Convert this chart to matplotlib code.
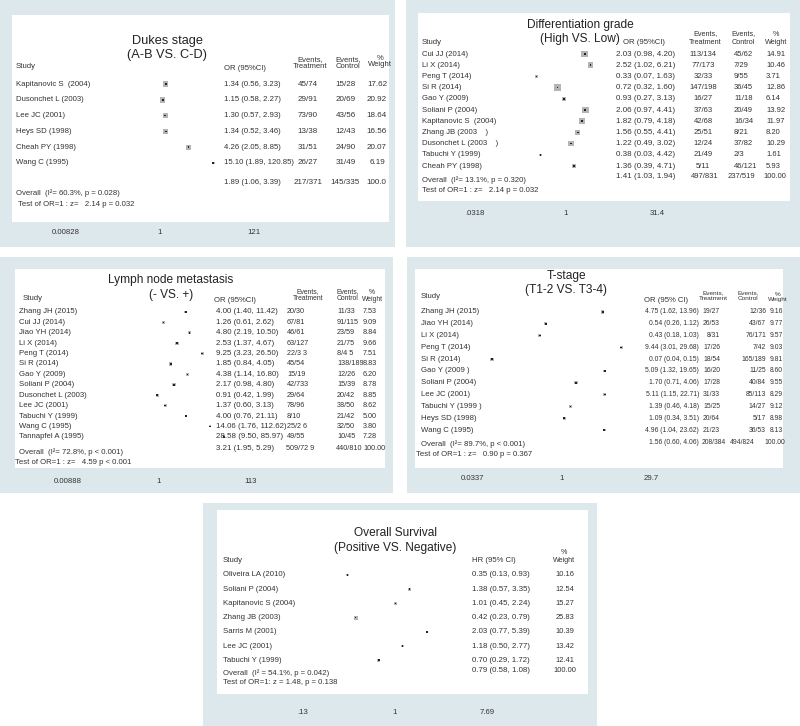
import numpy as np
import matplotlib.pyplot as plt
from matplotlib.patches import Rectangle
from matplotlib.ticker import NullLocator
from matplotlib.transforms import blended_transform_factory

plt.rcParams['font.family'] = ['Liberation Sans', 'DejaVu Sans']

W, H = 800, 726
BLUE = '#dde8ec'
INK = '#333333'
BOX = '#b4b4b4'

# Dukes stage
dukes_study = ['Kapitanovic S  (2004)', 'Dusonchet L (2003)', 'Lee JC (2001)', 'Heys SD (1998)',
               'Cheah PY (1998)', 'Wang C (1995)']
dukes_or = [1.34, 1.15, 1.30, 1.34, 4.26, 15.10]
dukes_lo = [0.56, 0.58, 0.57, 0.52, 2.05, 1.89]
dukes_hi = [3.23, 2.27, 2.93, 3.46, 8.85, 120.85]
dukes_trt = ['45/74', '29/91', '73/90', '13/38', '31/51', '26/27']
dukes_ctl = ['15/28', '20/69', '43/56', '12/43', '24/90', '31/49']
dukes_wt = [17.62, 20.92, 18.64, 16.56, 20.07, 6.19]

# Differentiation grade
diff_study = ['Cui JJ (2014)', 'Li X (2014)', 'Peng T (2014)', 'Si R (2014)', 'Gao Y (2009)',
              'Soliani P (2004)', 'Kapitanovic S  (2004)', 'Zhang JB (2003    )', 'Dusonchet L (2003    )',
              'Tabuchi Y (1999)', 'Cheah PY (1998)']
diff_or = [2.03, 2.52, 0.33, 0.72, 0.93, 2.06, 1.82, 1.56, 1.22, 0.38, 1.36]
diff_lo = [0.98, 1.02, 0.07, 0.32, 0.27, 0.97, 0.79, 0.55, 0.49, 0.03, 0.39]
diff_hi = [4.20, 6.21, 1.63, 1.60, 3.13, 4.41, 4.18, 4.41, 3.02, 4.42, 4.71]
diff_trt = ['113/134', '77/173', '32/33', '147/198', '16/27', '37/63', '42/68', '25/51', '12/24', '21/49', '5/11']
diff_ctl = ['45/62', '7/29', '9/55', '36/45', '11/18', '20/49', '16/34', '8/21', '37/82', '2/3', '46/121']
diff_wt = [14.91, 10.46, 3.71, 12.86, 6.14, 13.92, 11.97, 8.20, 10.29, 1.61, 5.93]

# Lymph node metastasis
lymph_study = ['Zhang JH (2015)', 'Cui JJ (2014)', 'Jiao YH (2014)', 'Li X (2014)', 'Peng T (2014)',
               'Si R (2014)', 'Gao Y (2009)', 'Soliani P (2004)', 'Dusonchet L (2003)', 'Lee JC (2001)',
               'Tabuchi Y (1999)', 'Wang C (1995)', 'Tannapfel A (1995)']
lymph_or = [4.00, 1.26, 4.80, 2.53, 9.25, 1.85, 4.38, 2.17, 0.91, 1.37, 4.00, 14.06, 28.58]
lymph_lo = [1.40, 0.61, 2.19, 1.37, 3.23, 0.84, 1.14, 0.98, 0.42, 0.60, 0.76, 1.76, 9.50]
lymph_hi = [11.42, 2.62, 10.50, 4.67, 26.50, 4.05, 16.80, 4.80, 1.99, 3.13, 21.11, 112.62, 85.97]
lymph_trt = ['20/30', '67/81', '46/61', '63/127', '22/3 3', '45/54', '15/19', '42/733', '29/64', '78/96',
             '8/10', '25/2 6', '49/55']
lymph_ctl = ['11/33', '91/115', '23/59', '21/75', '8/4 5', '138/189', '12/26', '15/39', '20/42', '38/50',
             '21/42', '32/50', '10/45']
lymph_wt = [7.53, 9.09, 8.84, 9.66, 7.51, 8.83, 6.20, 8.78, 8.85, 8.62, 5.00, 3.80, 7.28]

# T-stage
tst_study = ['Zhang JH (2015)', 'Jiao YH (2014)', 'Li X (2014)', 'Peng T (2014)', 'Si R (2014)',
             'Gao Y (2009 )', 'Soliani P (2004)', 'Lee JC (2001)', 'Tabuchi Y (1999 )', 'Heys SD (1998)',
             'Wang C (1995)']
tst_or = [4.75, 0.54, 0.43, 9.44, 0.07, 5.09, 1.70, 5.11, 1.39, 1.09, 4.96]
tst_lo = [1.62, 0.26, 0.18, 3.01, 0.04, 1.32, 0.71, 1.15, 0.46, 0.34, 1.04]
tst_hi = [13.96, 1.12, 1.03, 29.68, 0.15, 19.65, 4.06, 22.71, 4.18, 3.51, 23.62]
tst_trt = ['19/27', '26/53', '8/31', '17/26', '18/54', '16/20', '17/28', '31/33', '15/25', '20/64', '21/23']
tst_ctl = ['12/36', '43/67', '76/171', '7/42', '165/189', '11/25', '40/84', '85/113', '14/27', '5/17', '36/53']
tst_wt = [9.16, 9.77, 9.57, 9.03, 9.81, 8.60, 9.55, 8.29, 9.12, 8.98, 8.13]

# Overall survival
os_study = ['Oliveira LA (2010)', 'Soliani P (2004)', 'Kapitanovic S (2004)', 'Zhang JB (2003)',
            'Sarris M (2001)', 'Lee JC (2001)', 'Tabuchi Y (1999)']
os_hr = [0.35, 1.38, 1.01, 0.42, 2.03, 1.18, 0.70]
os_lo = [0.13, 0.57, 0.45, 0.23, 0.77, 0.50, 0.29]
os_hi = [0.93, 3.35, 2.24, 0.79, 5.39, 2.77, 1.72]
os_wt = [10.16, 12.54, 15.27, 25.83, 10.39, 13.42, 12.41]

PANELS = [
    dict(title=['Dukes stage', '(A-B VS. C-D)'], tfs=9.2, tx=167, ty=[41, 55],
         outer=(0, 0, 395, 247), inner=(12, 15, 389, 222), one=160, scale=19.6,
         ticks=[0.00828, 1, 121], ticklabels=['0.00828', '1', '121'], pad=5,
         row0=84, dy=15.8, box_k=1.2, study_x=16, sfs=5.6, cfs=5.6, efs=5.8,
         study=dukes_study, est=dukes_or, lo=dukes_lo, hi=dukes_hi,
         trt=dukes_trt, ctl=dukes_ctl, wt=dukes_wt,
         cols=[(224, 'left'), (308, 'center'), (346, 'center'), (377, 'center')],
         heads=[('Study', 16, 66, 'left'), ('OR (95%CI)', 224, 68, 'left'),
                ('Events,', 310, 60, 'center'), ('Treatment', 310, 66.5, 'center'),
                ('Events,', 348, 60, 'center'), ('Control', 348, 66.5, 'center'),
                ('%', 380, 58, 'center'), ('Weight', 380, 65, 'center')],
         overall=['Overall  (I²= 60.3%, p = 0.028)', 193, 16],
         test=['Test of OR=1 : z=   2.14 p = 0.032', 204, 18],
         ovals=[('1.89 (1.06, 3.39)', 224, 'left'), ('217/371', 308, 'center'),
                ('145/335', 345, 'center'), ('100.0', 376, 'center')], ovy=183),
    dict(title=['Differentiation grade', '(High VS. Low)'], tfs=8.6, tx=580, ty=[25, 39],
         outer=(406, 0, 800, 247), inner=(418, 13, 790, 201), one=566, scale=26.5,
         ticks=[0.0318, 1, 31.4], ticklabels=['.0318', '1', '31.4'], pad=6.4,
         row0=54, dy=11.2, box_k=1.8, study_x=422, sfs=5.6, cfs=5.8, efs=5.5,
         study=diff_study, est=diff_or, lo=diff_lo, hi=diff_hi,
         trt=diff_trt, ctl=diff_ctl, wt=diff_wt,
         cols=[(616, 'left'), (703, 'center'), (734, 'left'), (766, 'left')],
         heads=[('Study', 422, 42, 'left'), ('OR (95%CI)', 623, 43, 'left'),
                ('Events,', 705, 34, 'center'), ('Treatment', 705, 43, 'center'),
                ('Events,', 743, 34, 'center'), ('Control', 743, 43, 'center'),
                ('%', 776, 34, 'center'), ('Weight', 776, 43, 'center')],
         overall=['Overall  (I²= 13.1%, p = 0.320)', 180, 422],
         test=['Test of OR=1 : z=   2.14 p = 0.032', 191, 422],
         ovals=[('1.41 (1.03, 1.94)', 616, 'left'), ('497/831', 705, 'center'),
                ('237/519', 728, 'left'), ('100.00', 763, 'left')], ovy=177),
    dict(title=['Lymph node metastasis', '(- VS. +)'], tfs=8.6, tx=171, ty=[280, 295],
         outer=(0, 257, 393, 493), inner=(15, 269, 385, 468), one=159, scale=19.4,
         ticks=[0.00888, 1, 113], ticklabels=['0.00888', '1', '113'], pad=7,
         row0=312, dy=10.4, box_k=1.05, study_x=19, sfs=5.6, cfs=5.7, efs=5.2,
         study=lymph_study, est=lymph_or, lo=lymph_lo, hi=lymph_hi,
         trt=lymph_trt, ctl=lymph_ctl, wt=lymph_wt,
         cols=[(216, 'left'), (287, 'left'), (337, 'left'), (363, 'left')],
         heads=[('Study', 23, 298, 'left'), ('OR (95%CI)', 214, 300, 'left'),
                ('Events,', 308, 292, 'center'), ('Treatment', 308, 299, 'center'),
                ('Events,', 348, 292, 'center'), ('Control', 348, 299, 'center'),
                ('%', 372, 293, 'center'), ('Weight', 372, 299.5, 'center')],
         overall=['Overall  (I²= 72.8%, p < 0.001)', 452, 19],
         test=['Test of OR=1 : z=   4.59 p < 0.001', 463, 15],
         ovals=[('3.21 (1.95, 5.29)', 216, 'left'), ('509/72 9', 286, 'left'),
                ('440/810', 336, 'left'), ('100.00', 363, 'left')], ovy=448),
    dict(title=['T-stage', '(T1-2 VS. T3-4)'], tfs=8.6, tx=566, ty=[276, 290],
         outer=(407, 257, 800, 493), inner=(415, 269, 783, 468), one=562, scale=26.3,
         ticks=[0.0337, 1, 29.7], ticklabels=['0.0337', '1', '29.7'], pad=5,
         row0=312, dy=11.8, box_k=1.0, study_x=421, sfs=5.6, cfs=4.9, efs=4.9,
         study=tst_study, est=tst_or, lo=tst_lo, hi=tst_hi,
         trt=tst_trt, ctl=tst_ctl, wt=tst_wt,
         cols=[(699, 'right'), (720, 'right'), (766, 'right'), (783, 'right')],
         heads=[('Study', 421, 297, 'left'), ('OR (95% CI)', 644, 300, 'left'),
                ('Events,', 713, 293, 'center'), ('Treatment', 713, 299, 'center'),
                ('Events,', 748, 293, 'center'), ('Control', 748, 299, 'center'),
                ('%', 778, 294, 'center'), ('Weight', 778, 300, 'center')],
         overall=['Overall  (I²= 89.7%, p < 0.001)', 444, 421],
         test=['Test of OR=1 : z=   0.90 p = 0.367', 455, 416],
         ovals=[('1.56 (0.60, 4.06)', 699, 'right'), ('208/384', 702, 'left'),
                ('494/824', 730, 'left'), ('100.00', 785, 'right')], ovy=442),
    dict(title=['Overall Survival', '(Positive VS. Negative)'], tfs=8.6, tx=395, ty=[533, 548],
         outer=(203, 503, 597, 726), inner=(217, 510, 588, 694), one=395, scale=45.3,
         ticks=[0.13, 1, 7.69], ticklabels=['.13', '1', '7.69'], pad=11,
         row0=575, dy=14.2, box_k=0.8, study_x=223, sfs=5.6, cfs=5.7, efs=5.4,
         study=os_study, est=os_hr, lo=os_lo, hi=os_hi,
         trt=None, ctl=None, wt=os_wt,
         cols=[(472, 'left'), None, None, (565, 'center')],
         heads=[('Study', 223, 560, 'left'), ('HR (95% CI)', 472, 560, 'left'),
                ('%', 564, 552, 'center'), ('Weight', 564, 560, 'center')],
         overall=['Overall  (I² = 54.1%, p = 0.042)', 673, 223],
         test=['Test of OR=1: z = 1.48, p = 0.138', 683, 223],
         ovals=[('0.79 (0.58, 1.08)', 472, 'left'), ('100.00', 565, 'center')], ovy=671),
]

fig = plt.figure(figsize=(W / 100, H / 100), dpi=100)
bg = fig.add_axes([0, 0, 1, 1])
bg.set_xlim(0, W)
bg.set_ylim(H, 0)
bg.axis('off')


def forest(p):
    ox0, oy0, ox1, oy1 = p['outer']
    ix0, iy0, ix1, iy1 = p['inner']
    bg.add_patch(Rectangle((ox0, oy0), ox1 - ox0, oy1 - oy0, fc=BLUE, ec='none'))
    bg.add_patch(Rectangle((ix0, iy0), ix1 - ix0, iy1 - iy0, fc='white', ec='none'))

    ax = fig.add_axes([ix0 / W, 1 - iy1 / H, (ix1 - ix0) / W, (iy1 - iy0) / H])
    ax.patch.set_alpha(0)
    ax.set_xscale('log')
    ax.set_xlim(np.exp((ix0 - p['one']) / p['scale']), np.exp((ix1 - p['one']) / p['scale']))
    y0, dy = p['row0'], p['dy']
    ax.set_ylim((iy1 - y0) / dy, (iy0 - y0) / dy)
    for s in ax.spines.values():
        s.set_visible(False)
    ax.set_yticks([])
    ax.set_xticks(p['ticks'])
    ax.set_xticklabels(p['ticklabels'])
    ax.xaxis.set_minor_locator(NullLocator())
    ax.tick_params(axis='x', length=0, pad=p['pad'], labelsize=5.6, labelcolor=INK)

    rows = np.arange(len(p['study']))
    side = p['box_k'] * np.sqrt(p['wt']) * 0.72
    ax.scatter(p['est'], rows, marker='s', s=side ** 2, c=BOX, edgecolors='none', zorder=2)
    ax.scatter(p['est'], rows, marker='s', s=1.3, c='#222222', edgecolors='none', zorder=3)

    # titles and headers
    for line, ty in zip(p['title'], p['ty']):
        bg.text(p['tx'], ty, line, ha='center', va='center', fontsize=p['tfs'], color='#222222')
    for txt, hx, hy, ha in p['heads']:
        fs = p['sfs'] if txt in ('Study', 'OR (95%CI)', 'OR (95% CI)', 'HR (95% CI)') else p['efs'] - 0.3
        bg.text(hx, hy, txt, ha=ha, va='center', fontsize=fs, color=INK)

    # table rows
    tr = blended_transform_factory(bg.transData, ax.transData)
    ci = ['{:.2f} ({:.2f}, {:.2f})'.format(e, l, h) for e, l, h in zip(p['est'], p['lo'], p['hi'])]
    wt = ['{:.2f}'.format(w) for w in p['wt']]
    columns = [ci, p['trt'], p['ctl'], wt]
    sizes = [p['cfs'], p['efs'], p['efs'], p['efs']]
    for i, name in enumerate(p['study']):
        ax.text(p['study_x'], i, name, transform=tr, ha='left', va='center', fontsize=p['sfs'], color=INK)
        for col, spec, fs in zip(columns, p['cols'], sizes):
            if spec is None:
                continue
            ax.text(spec[0], i, col[i], transform=tr, ha=spec[1], va='center', fontsize=fs, color=INK)

    txt, ty, tx = p['overall']
    bg.text(tx, ty, txt, ha='left', va='center', fontsize=p['sfs'], color=INK)
    txt, ty, tx = p['test']
    bg.text(tx, ty, txt, ha='left', va='center', fontsize=p['sfs'], color=INK)
    for k, (txt, vx, ha) in enumerate(p['ovals']):
        fs = p['cfs'] if k == 0 else p['efs']
        bg.text(vx, p['ovy'], txt, ha=ha, va='center', fontsize=fs, color=INK)


for panel in PANELS:
    forest(panel)

fig.savefig('out.png', dpi=100)
